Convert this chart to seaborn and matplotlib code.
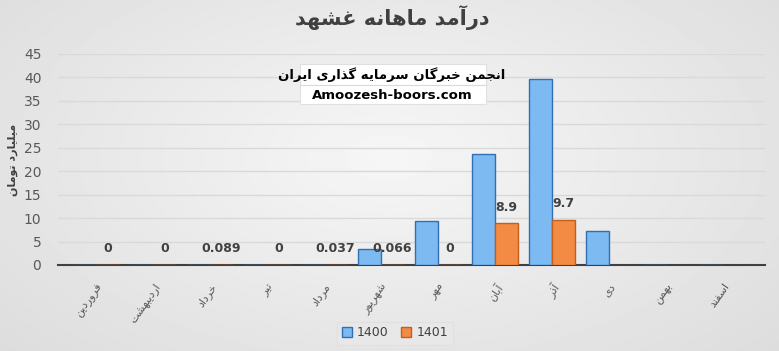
import numpy as np
import pandas as pd
import matplotlib
matplotlib.use("Agg")
import matplotlib.pyplot as plt
import seaborn as sns

# ---------------- data ----------------
months = ["فروردین", "اردیبهشت", "خرداد", "تیر", "مرداد", "شهریور",
          "مهر", "آبان", "آذر", "دی", "بهمن", "اسفند"]
vals_1400 = [0, 0, 0, 0, 0, 3.4, 9.4, 23.6, 39.6, 7.3, 0, 0]
vals_1401 = [0, 0, 0.089, 0, 0.037, 0.066, 0, 8.9, 9.7, np.nan, np.nan, np.nan]
labels_1401 = ["0", "0", "0.089", "0", "0.037", "0.066", "0", "8.9", "9.7", "", "", ""]
series = ["1400", "1401"]
title = "درآمد ماهانه غشهد"
ylabel = "میلیارد تومان"
box_line1 = "انجمن خبرگان سرمایه گذاری ایران"
box_line2 = "Amoozesh-boors.com"
yticks = [0, 5, 10, 15, 20, 25, 30, 35, 40, 45]

# ---------------- minimal Persian shaping ----------------
FORMS = {
    "ا": ("\uFE8D", "\uFE8E", None, None),
    "آ": ("\uFE81", "\uFE82", None, None),
    "ب": ("\uFE8F", "\uFE90", "\uFE91", "\uFE92"),
    "پ": ("\uFB56", "\uFB57", "\uFB58", "\uFB59"),
    "ت": ("\uFE95", "\uFE96", "\uFE97", "\uFE98"),
    "ث": ("\uFE99", "\uFE9A", "\uFE9B", "\uFE9C"),
    "ج": ("\uFE9D", "\uFE9E", "\uFE9F", "\uFEA0"),
    "چ": ("\uFB7A", "\uFB7B", "\uFB7C", "\uFB7D"),
    "ح": ("\uFEA1", "\uFEA2", "\uFEA3", "\uFEA4"),
    "خ": ("\uFEA5", "\uFEA6", "\uFEA7", "\uFEA8"),
    "د": ("\uFEA9", "\uFEAA", None, None),
    "ذ": ("\uFEAB", "\uFEAC", None, None),
    "ر": ("\uFEAD", "\uFEAE", None, None),
    "ز": ("\uFEAF", "\uFEB0", None, None),
    "ژ": ("\uFB8A", "\uFB8B", None, None),
    "س": ("\uFEB1", "\uFEB2", "\uFEB3", "\uFEB4"),
    "ش": ("\uFEB5", "\uFEB6", "\uFEB7", "\uFEB8"),
    "ص": ("\uFEB9", "\uFEBA", "\uFEBB", "\uFEBC"),
    "ض": ("\uFEBD", "\uFEBE", "\uFEBF", "\uFEC0"),
    "ط": ("\uFEC1", "\uFEC2", "\uFEC3", "\uFEC4"),
    "ظ": ("\uFEC5", "\uFEC6", "\uFEC7", "\uFEC8"),
    "ع": ("\uFEC9", "\uFECA", "\uFECB", "\uFECC"),
    "غ": ("\uFECD", "\uFECE", "\uFECF", "\uFED0"),
    "ف": ("\uFED1", "\uFED2", "\uFED3", "\uFED4"),
    "ق": ("\uFED5", "\uFED6", "\uFED7", "\uFED8"),
    "ک": ("\uFB8E", "\uFB8F", "\uFB90", "\uFB91"),
    "گ": ("\uFB92", "\uFB93", "\uFB94", "\uFB95"),
    "ل": ("\uFEDD", "\uFEDE", "\uFEDF", "\uFEE0"),
    "م": ("\uFEE1", "\uFEE2", "\uFEE3", "\uFEE4"),
    "ن": ("\uFEE5", "\uFEE6", "\uFEE7", "\uFEE8"),
    "ه": ("\uFEE9", "\uFEEA", "\uFEEB", "\uFEEC"),
    "و": ("\uFEED", "\uFEEE", None, None),
    "ی": ("\uFBFC", "\uFBFD", "\uFBFE", "\uFBFF"),
}


def fa(s):
    out = []
    n = len(s)
    for i, c in enumerate(s):
        if c not in FORMS:
            out.append(c)
            continue
        prev = s[i - 1] if i > 0 else None
        nxt = s[i + 1] if i < n - 1 else None
        jp = prev in FORMS and FORMS[prev][2] is not None
        jn = nxt in FORMS and FORMS[c][2] is not None
        iso, fin, ini, med = FORMS[c]
        if jp and jn:
            out.append(med)
        elif jp:
            out.append(fin)
        elif jn:
            out.append(ini)
        else:
            out.append(iso)
    return "".join(out)[::-1]


# ---------------- figure ----------------
sns.set_theme(style="white")
plt.rcParams["font.family"] = ["DejaVu Sans"]

fig = plt.figure(figsize=(7.79, 3.51), dpi=100)

# background gradient
bg = fig.add_axes([0, 0, 1, 1], zorder=-10)
yy, xx = np.mgrid[0:1:200j, 0:1:400j]
r = np.sqrt(((xx - 0.5) / 0.75) ** 2 + ((yy - 0.45) / 0.9) ** 2)
bg.imshow(0.965 - 0.11 * r, cmap="gray", vmin=0, vmax=1, aspect="auto",
          extent=[0, 1, 0, 1])
bg.axis("off")

ax = fig.add_axes([58 / 779, 86 / 351, (765 - 58) / 779, (265 - 54) / 351])
ax.set_facecolor("none")

df = pd.DataFrame({
    "month": months * 2,
    "value": vals_1400 + vals_1401,
    "year": [series[0]] * 12 + [series[1]] * 12,
})
pal = {"1400": "#7dbaf2", "1401": "#f38b45"}
sns.barplot(data=df, x="month", y="value", hue="year", hue_order=series,
            order=months, palette=pal, width=0.8, saturation=1, ax=ax,
            zorder=3)

edges = ["#2f6fb3", "#c0601c"]
for cont, ec in zip(ax.containers, edges):
    for p in cont:
        p.set_edgecolor(ec)
        p.set_linewidth(1.0)

# labels on 1401 bars
for p in ax.containers[1]:
    h = p.get_height()
    if np.isnan(h):
        continue
    xc = p.get_x() + p.get_width() / 2
    idx = int(round(xc))
    lab = labels_1401[idx]
    if lab:
        ax.annotate(lab, (xc, h), xytext=(0, 7), textcoords="offset points",
                    ha="center", va="bottom", fontsize=9, fontweight="bold",
                    color="#404040", zorder=5)

ax.set_xlim(-0.67, 11.74)
ax.set_ylim(0, 45)
ax.set_yticks(yticks)
ax.yaxis.grid(True, color="#d9d9d9", linewidth=1, zorder=0)
ax.set_axisbelow(True)
for s in ["top", "right", "left"]:
    ax.spines[s].set_visible(False)
ax.spines["bottom"].set_color("#404040")
ax.spines["bottom"].set_linewidth(1.5)
ax.tick_params(axis="y", length=0, labelsize=10, labelcolor="#595959", pad=12)
ax.tick_params(axis="x", length=0, labelsize=8, labelcolor="#595959", pad=12)
ax.set_xticks(range(12))
ax.set_xticklabels([fa(m) for m in months], rotation=55, ha="right",
                   rotation_mode="anchor")
ax.set_xlabel("")
ax.set_ylabel(fa(ylabel), fontsize=8, fontweight="bold", color="#404040",
              labelpad=4)

# legend
ax.get_legend().remove()
handles = [plt.Rectangle((0, 0), 1, 1, facecolor=pal[s], edgecolor=e)
           for s, e in zip(series, edges)]
fig.legend(handles, series, loc="center", bbox_to_anchor=(395 / 779, 1 - 333 / 351),
           ncol=2, frameon=True, fontsize=9, handlelength=0.8, handleheight=0.8,
           handletextpad=0.4, columnspacing=1.0, borderpad=0.4,
           facecolor="#e9e9e9", edgecolor="#e0e0e0", labelcolor="#404040",
           fancybox=False)

# title
fig.text(392 / 779, 1 - 18 / 351, fa(title), ha="center", va="center",
         fontsize=15, fontweight="bold", color="#404040")

# text box
fig.patches.append(plt.Rectangle((300 / 779, 1 - 104 / 351), 186 / 779, 40 / 351,
                                 transform=fig.transFigure, facecolor="white",
                                 edgecolor="#e0e0e0", linewidth=0.8, zorder=4))
fig.lines.append(plt.Line2D([300 / 779, 486 / 779], [1 - 85 / 351, 1 - 85 / 351],
                            transform=fig.transFigure, color="#d9d9d9",
                            linewidth=0.8, zorder=5))
fig.text(392 / 779, 1 - 75 / 351, fa(box_line1), ha="center", va="center",
         fontsize=9.5, fontweight="bold", color="black", zorder=6)
fig.text(392 / 779, 1 - 95 / 351, box_line2, ha="center", va="center",
         fontsize=9.5, fontweight="bold", color="black", zorder=6)

fig.savefig("out.png", dpi=100)
